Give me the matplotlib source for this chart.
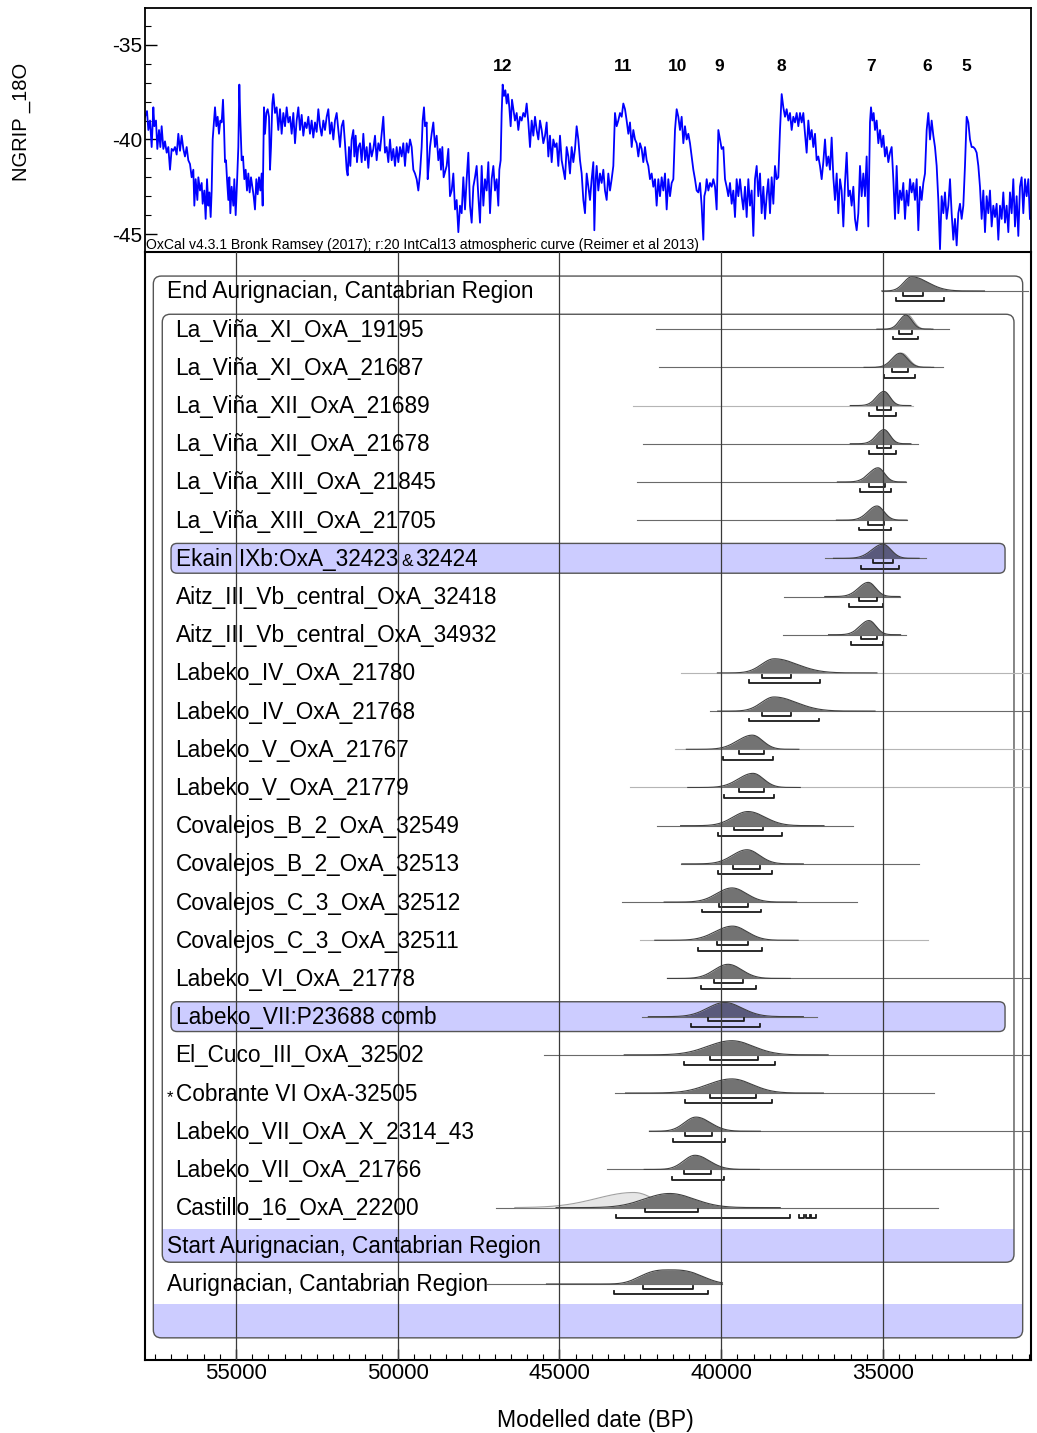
import numpy as np
import matplotlib
matplotlib.use('Agg')
import matplotlib.pyplot as plt
from matplotlib.patches import FancyBboxPatch, Rectangle
from matplotlib.transforms import IdentityTransform, blended_transform_factory
from matplotlib.ticker import MultipleLocator

plt.rcParams['font.family'] = ['Liberation Sans', 'DejaVu Sans']
plt.rcParams['axes.unicode_minus'] = False

# ---------------- NGRIP d18O curve ----------------
ngrip_years = [
57813,57751,57710,57658,57607,57555,57524,57473,57432,57380,57339,57298,57246,57195,57143,57092,57040,56989,56937,56886,
56834,56783,56731,56680,56628,56577,56525,56474,56422,56371,56319,56288,56247,56195,56164,56113,56061,56030,55979,55938,
55896,55855,55824,55783,55752,55721,55680,55649,55608,55567,55526,55484,55443,55402,55371,55340,55309,55278,55237,55206,
55175,55134,55082,55052,55010,54969,54928,54897,54866,54825,54784,54742,54701,54660,54619,54578,54536,54495,54454,54413,
54372,54330,54289,54248,54207,54176,54135,54104,54062,54021,53980,53949,53918,53877,53846,53795,53743,53692,53640,53589,
53537,53485,53434,53382,53331,53279,53228,53176,53125,53073,53022,52970,52919,52867,52816,52764,52713,52661,52610,52558,
52507,52455,52404,52352,52300,52249,52197,52146,52094,52043,51991,51940,51888,51837,51785,51734,51682,51631,51579,51548,
51507,51466,51425,51373,51342,51301,51260,51218,51167,51115,51064,51012,50961,50909,50858,50806,50755,50703,50652,50600,
50549,50497,50446,50394,50343,50291,50240,50188,50137,50085,50034,49982,49931,49879,49828,49776,49724,49673,49621,49570,
49518,49467,49415,49364,49312,49261,49230,49189,49158,49106,49075,49034,49003,48952,48900,48849,48797,48746,48694,48663,
48622,48581,
48488,48436,48385,48333,48282,48230,48179,48127,48076,48024,47973,47921,47870,47818,47767,47715,47664,47612,47561,47509,
47457,47406,47354,47303,47251,47200,47148,47097,47045,46994,46942,46891,46860,46819,46788,46757,46716,46674,46633,46592,
46551,46510,46468,46427,46376,46324,46273,46221,46170,46118,46067,46015,45963,45912,45860,45809,45757,45706,45654,45603,
45551,45500,45448,45397,45345,45294,45242,45191,45139,45088,45036,44985,44933,44882,44830,44779,44727,44676,44624,44573,
44521,44470,44418,44366,44315,44263,44212,44160,44109,44057,44006,43954,43923,43882,43851,43800,43748,43697,43645,43594,
43542,43491,43439,43388,43336,43285,43233,43182,43130,43078,43027,42975,42924,42872,42821,42769,42718,42666,42615,42563,
42512,42460,42409,42357,42306,42254,42203,42151,42100,42048,41997,41945,41894,41842,41791,41739,41687,41636,41584,41533,
41481,41430,41378,41327,41275,41224,41172,41121,41069,41018,40966,40915,40863,40812,40760,40709,40657,40606,40554,40523,
40482,40451,40399,40348,40296,40245,40193,40142,40090,40039,39987,39936,39884,39833,39781,39730,39678,39627,39575,39524,
39472,39420,39369,39317,39266,39214,39163,39111,39060,39008,38957,38905,38854,38802,38751,38699,38648,38596,38545,38493,
38442,38390,38339,38287,38236,38184,38132,38081,38029,37978,37926,37875,37823,37772,37720,37669,37617,37566,37514,37463,
37411,37360,37308,37257,37205,37154,37102,37051,36999,36948,36896,36845,36793,36741,36690,36638,36587,36535,36484,36432,
36381,36329,36278,36226,36175,36123,36072,36020,35969,35917,35866,35814,35763,35711,35660,35608,35557,35505,35454,35402,
35371,35330,35289,35247,35196,35144,35093,35041,34990,34938,34887,34835,34784,34732,34681,34629,34578,34526,34475,34423,
34372,34320,34269,34217,34165,34114,34062,34011,33959,33908,33856,33805,33753,33702,33650,33599,33547,33496,33444,33393,
33341,33290,33238,33187,33135,33084,33032,32981,32929,32878,32826,32775,32723,32672,32620,32569,32517,32466,32414,32362,
32311,32259,32208,32156,32105,32053,32002,31950,31899,31847,31796,31744,31693,31641,31590,31538,31487,31435,31384,31332,
31281,31229,31178,31126,31075,31023,30972,30920,30869,30817,30766,30714,30663,30611,30560,30508,30457]

ngrip_d18o = [
-38.8,-38.5,-39.5,-39.0,-40.4,-38.3,-39.3,-39.0,-40.5,-39.5,-40.4,-39.3,-40.5,-40.1,-40.7,-40.4,-41.6,-40.5,-40.6,-40.4,
-40.8,-39.7,-40.6,-39.8,-40.5,-40.9,-40.4,-41.1,-41.3,-42.0,-41.6,-43.5,-42.1,-43.2,-42.0,-42.7,-42.3,-43.4,-42.7,-44.2,
-42.1,-43.5,-42.8,-44.1,-42.7,-40.0,-39.0,-38.3,-39.3,-38.8,-39.7,-39.0,-39.1,-37.9,-39.3,-41.2,-41.1,-42.1,-43.2,-42.0,
-43.9,-42.5,-43.5,-42.1,-44.0,-42.3,-40.4,-37.1,-39.0,-41.1,-40.9,-42.1,-41.6,-42.7,-41.8,-42.8,-42.0,-42.5,-43.0,-43.7,
-42.1,-42.9,-42.0,-42.7,-41.8,-43.5,-38.3,-39.7,-38.6,-38.4,-38.8,-41.6,-40.4,-38.1,-37.6,-38.6,-38.3,-39.5,-38.4,-39.7,
-38.6,-39.3,-38.3,-39.1,-38.8,-39.7,-38.6,-40.2,-39.0,-38.3,-39.5,-38.7,-39.8,-39.1,-39.4,-38.8,-39.7,-39.0,-39.9,-39.1,
-39.6,-38.4,-39.3,-39.8,-39.0,-39.5,-38.8,-38.4,-39.7,-39.1,-40.0,-39.0,-38.6,-39.5,-40.4,-39.3,-39.0,-40.2,-41.6,-41.9,
-40.4,-41.4,-40.0,-39.5,-40.9,-39.8,-41.2,-40.4,-40.2,-41.2,-39.7,-41.1,-40.4,-41.5,-40.2,-40.9,-40.5,-39.8,-41.1,-40.2,
-40.6,-39.7,-38.8,-40.7,-40.4,-41.2,-40.0,-41.1,-40.5,-41.4,-40.4,-41.2,-40.4,-40.9,-40.2,-41.4,-40.2,-40.7,-40.0,-40.4,
-41.6,-41.8,-42.1,-42.7,-41.8,-40.4,-39.0,-38.3,-39.3,-39.1,-42.1,-41.2,-40.4,-39.7,-39.1,-40.4,-39.8,-41.1,-40.5,-41.6,
-40.4,-42.0,
-41.4,-40.5,-43.0,-42.7,-41.8,-43.7,-43.2,-44.9,-43.5,-43.9,-42.0,-43.7,-42.1,-40.7,-43.5,-44.4,-42.5,-42.0,-41.4,-43.0,
-44.4,-41.4,-43.5,-42.1,-42.7,-41.2,-43.9,-42.1,-41.4,-42.7,-42.1,-43.5,-41.6,-41.1,-38.6,-37.1,-37.7,-37.4,-38.1,-37.6,
-38.3,-39.3,-37.9,-38.4,-39.0,-38.6,-39.5,-38.8,-39.0,-38.6,-38.8,-38.1,-39.1,-40.4,-39.0,-39.8,-38.8,-39.5,-40.0,-39.0,
-39.5,-40.2,-39.8,-39.1,-40.9,-39.8,-41.2,-40.0,-40.4,-40.2,-41.4,-39.8,-41.1,-41.6,-42.1,-40.4,-40.9,-41.8,-40.4,-41.2,
-40.5,-39.3,-40.0,-41.1,-41.8,-43.2,-43.9,-41.8,-42.5,-43.2,-42.1,-41.2,-44.8,-42.1,-41.4,-42.7,-41.8,-42.3,-41.6,-42.7,
-43.2,-41.8,-42.7,-42.1,-41.4,-38.6,-39.3,-39.0,-38.6,-38.8,-38.1,-38.4,-39.0,-39.7,-39.1,-40.4,-39.5,-40.0,-40.2,-40.9,
-40.2,-40.5,-41.2,-40.4,-41.1,-41.4,-42.1,-41.8,-42.5,-42.1,-43.5,-42.1,-43.0,-42.0,-42.7,-41.8,-43.7,-42.1,-43.0,-42.3,
-42.1,-39.5,-38.4,-38.8,-39.5,-38.8,-40.2,-39.3,-40.0,-39.7,-40.2,-40.9,-41.6,-42.1,-42.7,-42.8,-42.3,-43.5,-45.3,-43.0,
-42.7,-42.1,-42.7,-42.3,-42.5,-42.1,-42.5,-43.7,-39.5,-40.0,-40.5,-40.4,-42.1,-42.5,-43.0,-42.3,-43.4,-42.7,-44.1,-42.1,
-43.0,-42.1,-43.0,-43.7,-42.5,-44.1,-42.1,-43.5,-42.7,-45.1,-42.1,-41.4,-43.0,-41.8,-43.9,-42.5,-44.2,-43.0,-42.1,-43.9,
-42.0,-43.4,-41.4,-42.1,-42.0,-39.5,-37.6,-38.3,-38.8,-38.4,-39.0,-38.6,-39.5,-38.8,-39.1,-38.6,-39.3,-38.6,-39.1,-38.6,
-39.7,-40.7,-39.0,-40.0,-39.5,-40.4,-39.7,-41.1,-40.9,-41.4,-42.1,-41.2,-40.0,-41.4,-40.9,-41.6,-39.9,-42.0,-43.2,-41.8,
-43.9,-42.1,-42.7,-44.6,-42.3,-40.7,-43.0,-42.7,-43.5,-42.5,-44.2,-44.8,-43.9,-41.4,-43.0,-41.8,-43.0,-40.9,-44.6,-39.1,
-38.3,-39.0,-38.6,-39.5,-39.0,-40.2,-39.5,-40.4,-39.8,-40.9,-40.4,-41.2,-40.7,-40.4,-42.1,-44.2,-41.4,-43.9,-42.7,-43.2,
-42.3,-44.2,-42.7,-43.5,-42.1,-42.8,-42.3,-43.2,-42.1,-44.8,-42.5,-43.2,-42.3,-41.8,-39.5,-38.6,-40.0,-39.0,-39.8,-40.4,
-41.4,-43.2,-45.8,-43.0,-43.9,-42.8,-44.2,-43.5,-42.1,-43.9,-45.3,-44.2,-45.6,-43.9,-43.4,-44.2,-43.5,-41.4,-38.8,-39.1,
-40.0,-40.4,-40.4,-40.5,-40.7,-41.4,-42.5,-44.2,-42.7,-44.9,-43.0,-43.9,-42.7,-44.6,-43.5,-44.1,-43.4,-45.3,-43.5,-44.2,
-42.8,-44.4,-43.5,-44.9,-42.8,-43.9,-42.1,-44.6,-43.0,-45.1,-42.5,-42.0,-43.9,-42.1,-43.0,-42.1,-44.2]

event_numbers = ['12', '11', '10', '9', '8', '7', '6', '5']
event_years = [46756, 43046, 41346, 40070, 38153, 35380, 33649, 32413]

# ---------------- OxCal model rows ----------------
labels = [
    'End Aurignacian, Cantabrian Region',
    'La_Viña_XI_OxA_19195', 'La_Viña_XI_OxA_21687',
    'La_Viña_XII_OxA_21689', 'La_Viña_XII_OxA_21678',
    'La_Viña_XIII_OxA_21845', 'La_Viña_XIII_OxA_21705',
    'Ekain IXb:OxA_32423&32424',
    'Aitz_III_Vb_central_OxA_32418', 'Aitz_III_Vb_central_OxA_34932',
    'Labeko_IV_OxA_21780', 'Labeko_IV_OxA_21768',
    'Labeko_V_OxA_21767', 'Labeko_V_OxA_21779',
    'Covalejos_B_2_OxA_32549', 'Covalejos_B_2_OxA_32513',
    'Covalejos_C_3_OxA_32512', 'Covalejos_C_3_OxA_32511',
    'Labeko_VI_OxA_21778', 'Labeko_VII:P23688 comb',
    'El_Cuco_III_OxA_32502', 'Cobrante VI OxA-32505',
    'Labeko_VII_OxA_X_2314_43', 'Labeko_VII_OxA_21766',
    'Castillo_16_OxA_22200',
    'Start Aurignacian, Cantabrian Region',
    'Aurignacian, Cantabrian Region',
    '']

# posterior mode and (older, younger) widths in years
post_mode = [34113, 34289, 34474, 34969, 34969, 35154, 35185, 35000, 35454, 35433,
             38360, 38369, 39040, 39019, 39173, 39204, 39668, 39652, 39791, 39896,
             39674, 39674, 40780, 40811, 41596, None, 41600, None]
post_sig_old = [242, 200, 247, 232, 232, 279, 279, 340, 299, 278,
                391, 387, 453, 448, 463, 448, 466, 534, 422, 524,
                739, 730, 356, 349, 780, None, 845, None]
post_sig_young = [500, 185, 231, 185, 185, 200, 216, 248, 227, 217,
                  705, 694, 320, 325, 522, 387, 444, 451, 428, 541,
                  662, 629, 442, 442, 760, None, 955, None]
post_shape = [2, 2, 2, 2, 2, 2, 2, 2, 2, 2, 2, 2, 2, 2, 2, 2, 2, 2, 2, 2,
              2, 2, 2, 2, 2, None, 3, None]

# unmodelled likelihoods that show behind the posteriors
like_mode = {1: 34230, 2: 34420, 24: 42700}
like_sig_old = {1: 190, 2: 240, 24: 1150}
like_sig_young = {1: 175, 2: 220, 24: 600}
like_scale = {1: 1.0, 2: 1.0, 24: 1.07}

# thin baseline extent (older, younger)
line_range = [(35040, 30524), (42017, 32960), (41924, 33146), (42728, 34073), (42419, 33918),
              (42604, 34289), (42604, 34258), (36793, 33670), (38060, 34474), (38091, 34298),
              (41244, 30425), (40348, 30425), (41430, 30425), (42821, 30425), (41986, 35927),
              (41244, 33887), (43068, 35804), (42512, 33608), (41662, 30425), (42450, 37025),
              (45492, 30425), (43285, 33423), (42219, 30460), (43532, 30425), (46978, 33315),
              None, (47241, 39965), None]

# 68.3 % and 95.4 % ranges
hpd68 = [[(34381, 33763)], [(34505, 34103)], [(34721, 34226)], [(35185, 34753)], [(35185, 34753)],
         [(35433, 34938)], [(35464, 34969)], [(35309, 34691)], [(35742, 35185)], [(35680, 35185)],
         [(38741, 37845)], [(38741, 37845)], [(39451, 38679)], [(39451, 38679)], [(39606, 38710)],
         [(39637, 38802)], [(40082, 39176)], [(40131, 39173)], [(40224, 39328)], [(40425, 39309)],
         [(40348, 38864)], [(40360, 38914)], [(41121, 40292)], [(41152, 40327)], [(42366, 40709)],
         [], [(42419, 40874)], []]
hpd95 = [[(34598, 33114)], [(34690, 33918)], [(34969, 34011)], [(35433, 34598)], [(35433, 34598)],
         [(35711, 34753)], [(35742, 34753)], [(35680, 34505)], [(36051, 35000)], [(35989, 35000)],
         [(39142, 36950)], [(39142, 36981)], [(39946, 38400)], [(39915, 38369)], [(40100, 38129)],
         [(40100, 38431)], [(40601, 38780)], [(40719, 38750)], [(40635, 38935)], [(40944, 38814)],
         [(41152, 38351)], [(41133, 38416)], [(41492, 39896)], [(41508, 39928)],
         [(43241, 37875), (37600, 37445), (37383, 37260), (37214, 37059)],
         [], [(43300, 40400)], []]

x_ticks = [55000, 50000, 45000, 40000, 35000]
y_ticks_top = [-45, -40, -35]
faint_rows = [3, 10, 12, 13, 17]
band_rows = [7, 19]

# ---------------- figure ----------------
W, H = 1037, 1433
fig = plt.figure(figsize=(W / 100, H / 100), dpi=100)
ax_top = fig.add_axes([145 / W, 1 - 252 / H, 886 / W, 244 / H])
ax = fig.add_axes([145 / W, 1 - 1360 / H, 886 / W, 1108 / H])

XLIM = (57813, 30425)

# ---- top panel
ax_top.plot(ngrip_years, ngrip_d18o, color='#0000ff', lw=1.3, zorder=2)
ax_top.set_xlim(*XLIM)
ax_top.set_ylim(-45.95, -33.05)
ax_top.set_xticks([])
ax_top.set_yticks(y_ticks_top)
ax_top.yaxis.set_minor_locator(MultipleLocator(1))
ax_top.tick_params(axis='y', which='major', direction='in', length=8.5, width=1,
                   labelsize=15, pad=2)
ax_top.tick_params(axis='y', which='minor', direction='in', length=4.5, width=0.8)
for s in ax_top.spines.values():
    s.set_linewidth(1.3)
for num, yr in zip(event_numbers, event_years):
    ax_top.text(yr, -36.15, num, ha='center', va='center', fontsize=12.5, fontweight='bold')

fig.text(146 / W, 1 - 245 / H,
         'OxCal v4.3.1 Bronk Ramsey (2017); r:20 IntCal13 atmospheric curve (Reimer et al 2013)',
         ha='left', va='center', fontsize=10.05)
fig.text(22 / W, 1 - 122 / H, 'NGRIP _18O', rotation=90, ha='center', va='center', fontsize=14.5)
fig.text(595 / W, 1 - 1420 / H, 'Modelled date (BP)', ha='center', va='center', fontsize=16.6)

# ---- bottom panel
ax.set_xlim(*XLIM)
ax.set_ylim(27.99, -1.02)
ax.set_yticks([])
ax.set_xticks(x_ticks)
ax.xaxis.set_minor_locator(MultipleLocator(500))
ax.tick_params(axis='x', which='major', direction='in', length=8, width=1, labelsize=16, pad=2)
ax.tick_params(axis='x', which='minor', direction='in', length=4, width=0.8)
for s in ax.spines.values():
    s.set_linewidth(1.5)
for t in x_ticks:
    ax.axvline(t, color='#3a3a3a', lw=0.9, zorder=5)

ident = IdentityTransform()


def dx(fx):
    return ax.transAxes.transform((fx, 0))[0]


def dy(row):
    return ax.transData.transform((0, row))[1]


def rbox(fx0, fx1, r0, r1, radius, **kw):
    x0, x1 = dx(fx0), dx(fx1)
    y0, y1 = dy(r1), dy(r0)
    p = FancyBboxPatch((x0, y0), x1 - x0, y1 - y0,
                       boxstyle=f"round,pad=0,rounding_size={radius}",
                       transform=ident, **kw)
    ax.add_artist(p)
    return p


BAND = '#ccccff'
EDGE = '#555555'
outer = rbox(0.0094, 0.9906, -0.39, 27.41, 8, facecolor='none', edgecolor=EDGE, lw=1.0, zorder=2)
inner = rbox(0.0195, 0.9808, 0.61, 25.43, 8, facecolor='none', edgecolor=EDGE, lw=1.0, zorder=2)

# bottom bands clipped by the boxes
for fx0, fx1, r0, r1, clip in [(0.0195, 0.9808, 24.55, 25.43, inner),
                               (0.0094, 0.9906, 26.53, 27.41, outer)]:
    x0, x1 = dx(fx0), dx(fx1)
    rect = Rectangle((x0, dy(r1)), x1 - x0, dy(r0) - dy(r1), transform=ident,
                     facecolor=BAND, edgecolor='none', zorder=1)
    ax.add_artist(rect)
    rect.set_clip_path(clip)

for r in band_rows:
    rbox(0.0294, 0.9707, r - 0.39, r + 0.39, 6, facecolor=BAND, edgecolor=EDGE, lw=1.0, zorder=1)


def dens(x, m, so, sy, p):
    d = x - m
    s = np.where(d > 0, so, sy)
    return np.exp(-0.5 * np.abs(d / s) ** p)


HGT = 0.37
for i in range(len(labels)):
    if line_range[i] is not None:
        old, young = line_range[i]
        col = '#b5b5b5' if i in faint_rows else '#6a6a6a'
        ax.plot([old, young], [i, i], color=col, lw=0.8, zorder=2.5)
    if i in like_mode:
        m, so, sy = like_mode[i], like_sig_old[i], like_sig_young[i]
        old, young = line_range[i]
        xs = np.linspace(max(young, m - 4.0 * sy), min(old, m + 3.2 * so), 400)
        yv = i - HGT * like_scale[i] * dens(xs, m, so, sy, 2)
        ax.fill_between(xs, i, yv, color='#e6e6e6', lw=0, zorder=2.6)
        ax.plot(xs, yv, color='#a0a0a0', lw=0.8, zorder=2.7)
    if post_mode[i] is not None:
        m, so, sy, p = post_mode[i], post_sig_old[i], post_sig_young[i], post_shape[i]
        old, young = line_range[i]
        lo = max(young, m - 4.5 * sy)
        hi = min(old, m + 4.5 * so)
        xs = np.linspace(lo, hi, 500)
        yv = i - HGT * dens(xs, m, so, sy, p)
        fc = '#5a5a7c' if i in band_rows else '#737373'
        ax.fill_between(xs, i, yv, color=fc, lw=0, zorder=3)
        ax.plot(xs, yv, color='#404040', lw=0.8, zorder=3.1)
    for (a, b) in hpd68[i]:
        yb = i + 0.123
        ax.plot([a, a, b, b], [yb - 0.075, yb, yb, yb - 0.075], color='#1a1a1a', lw=1.3, zorder=4)
    for (a, b) in hpd95[i]:
        yb = i + 0.27
        ax.plot([a, a, b, b], [yb - 0.075, yb, yb, yb - 0.075], color='#1a1a1a', lw=1.3, zorder=4)

# labels
LFS = 16.3
bt = blended_transform_factory(ax.transAxes, ax.transData)
group_rows = [0, 25, 26]
special = {}
for i, lab in enumerate(labels):
    if not lab:
        continue
    fx = 0.0252 if i in group_rows else 0.0345
    if '&' in lab:
        first = lab.split('&')[0]
        special['amp'] = (i, ax.text(fx, i + 0.196, first, transform=bt, ha='left',
                                     va='baseline', fontsize=LFS, zorder=6), lab.split('&')[1])
        continue
    ax.text(fx, i + 0.196, lab, transform=bt, ha='left', va='baseline', fontsize=LFS, zorder=6)
    if lab.startswith('Cobrante'):
        ax.text(0.0282, i + 0.25, '*', transform=bt, ha='center', va='baseline',
                fontsize=12, zorder=6)

fig.canvas.draw()
rend = fig.canvas.get_renderer()
bt2 = blended_transform_factory(ident, ax.transData)
row, t1, rest = special['amp']
bb = t1.get_window_extent(rend)
t2 = ax.text(bb.x1 + 3, row + 0.196, '&', transform=bt2, ha='left', va='baseline',
             fontsize=12.5, zorder=6)
fig.canvas.draw()
bb2 = t2.get_window_extent(rend)
ax.text(bb2.x1 + 2.5, row + 0.196, rest, transform=bt2, ha='left', va='baseline',
        fontsize=LFS, zorder=6)

fig.savefig('out.png', dpi=100)
